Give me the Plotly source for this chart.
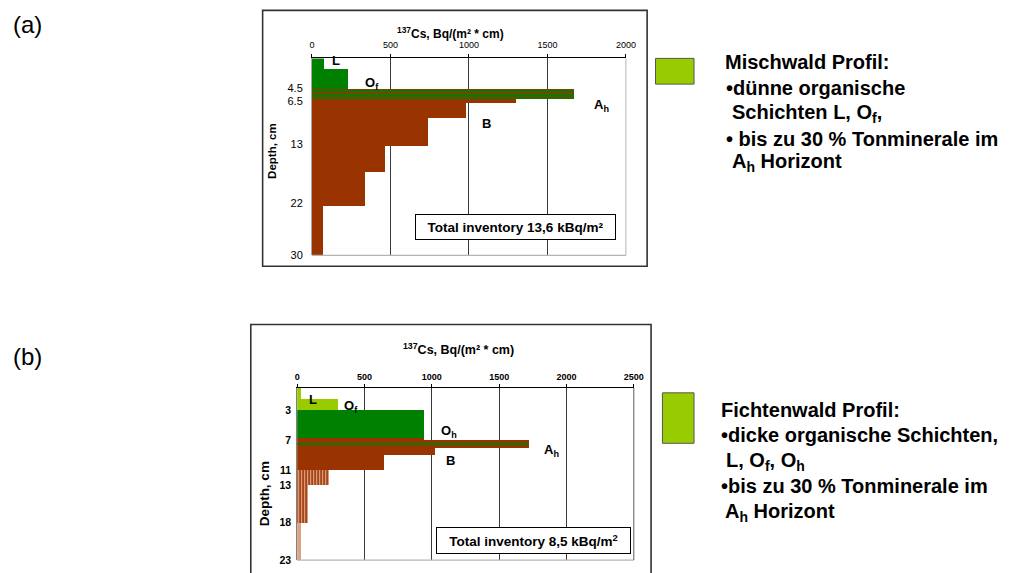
import plotly.graph_objects as go

W, H = 1013, 573
FONT = "Liberation Sans, Arial, sans-serif"
BROWN = "#993300"
GREEN = "#008000"
LIME = "#99cc00"
SALMON = "#d9a387"

# ---------------- data: panel (a) Mischwald ----------------
a_layers = ["L", "Of", "Ah", "Ah/B", "B1", "B2", "B3", "B4", "B5"]
a_top = [0, 1.6, 4.7, 6.2, 6.8, 9.2, 13.4, 17.3, 22.5]
a_bottom = [1.6, 4.7, 6.2, 6.8, 9.2, 13.4, 17.3, 22.5, 30]
a_cs = [78, 229, 1672, 1297, 980, 737, 465, 340, 67]
a_style = ["green", "green", "stripe_h", "brown", "brown", "brown", "brown", "brown", "brown"]
a_cs_ticks = [0, 500, 1000, 1500, 2000]
a_depth_ticks = [4.5, 6.5, 13, 22, 30]
a_depth_ticklabels = ["4.5", "6.5", "13", "22", "30"]
a_total = "Total inventory 13,6 kBq/m²"

# ---------------- data: panel (b) Fichtenwald ----------------
b_layers = ["L", "Of", "Oh", "Oh/Ah", "Ah", "Ah core", "B1", "B2", "B3", "B4", "C"]
b_top = [0, 1.5, 3, 6.75, 7, 7.35, 8, 9, 11, 13, 18]
b_bottom = [1.5, 3, 6.75, 7, 8, 7.65, 9, 11, 13, 18, 23]
b_cs = [28, 302, 945, 945, 1725, 1725, 1022, 643, 240, 81, 32]
b_style = ["lime", "lime", "green", "brown", "brown", "green", "brown", "brown",
           "stripe_v", "stripe_v", "salmon"]
b_cs_ticks = [0, 500, 1000, 1500, 2000, 2500]
b_depth_ticks = [3, 7, 11, 13, 18, 23]
b_depth_ticklabels = ["3", "7", "11", "13", "18", "23"]
b_total = "Total inventory 8,5 kBq/m<sup>2</sup>"

STYLES = {
    "green": dict(color=GREEN),
    "lime": dict(color=LIME),
    "brown": dict(color=BROWN),
    "salmon": dict(color=SALMON),
    "stripe_h": dict(color=BROWN, pattern=dict(shape="-", bgcolor=GREEN, fgcolor=BROWN,
                                               size=3.3, solidity=0.4, fillmode="replace")),
    "stripe_v": dict(color=BROWN, pattern=dict(shape="|", bgcolor="#a8441a", fgcolor="#e2ad8e",
                                               size=3, solidity=0.35, fillmode="replace")),
}


def X(p):
    return p / W


def Y(p):
    return 1 - p / H


fig = go.Figure()


def add_panel(layers, top, bottom, vals, styles, xa, ya):
    for i, s in enumerate(styles):
        fig.add_trace(go.Bar(
            x=[vals[i]], y=[(top[i] + bottom[i]) / 2], width=[bottom[i] - top[i]],
            base=0, orientation="h", name=layers[i], showlegend=False,
            marker=dict(line=dict(width=0), **STYLES[s]),
            xaxis=xa, yaxis=ya, hoverinfo="skip"))


add_panel(a_layers, a_top, a_bottom, a_cs, a_style, "x", "y")
add_panel(b_layers, b_top, b_bottom, b_cs, b_style, "x2", "y2")

common_x = dict(side="top", showline=True, linecolor="black", linewidth=1,
                ticks="outside", ticklen=3, tickcolor="black", showgrid=True,
                gridcolor="#3a3a3a", gridwidth=1, zeroline=False, fixedrange=True)

fig.update_layout(
    width=W, height=H, margin=dict(l=0, r=0, t=0, b=0),
    paper_bgcolor="white", plot_bgcolor="white", barmode="overlay", bargap=0,
    font=dict(family=FONT, color="black"),
    xaxis=dict(domain=[X(313), X(631)], range=[0, 2000], tickvals=a_cs_ticks,
               anchor="y", tickfont=dict(size=9), ticklabelstandoff=3, **common_x),
    yaxis=dict(domain=[Y(258), Y(59)], range=[30, 0], tickvals=a_depth_ticks,
               ticktext=a_depth_ticklabels, anchor="x", showline=True, linecolor="#a8a8a8",
               ticks="outside", ticklen=6, tickcolor="rgba(0,0,0,0)", showgrid=False,
               zeroline=False, tickfont=dict(size=11), fixedrange=True),
    xaxis2=dict(domain=[X(298), X(639)], range=[0, 2500], tickvals=b_cs_ticks,
                anchor="y2", tickfont=dict(size=9, weight="bold"), **common_x),
    yaxis2=dict(domain=[Y(566), Y(392)], range=[23, 0], tickvals=b_depth_ticks,
                ticktext=b_depth_ticklabels, anchor="x2", showline=True, linecolor="#808080",
                ticks="outside", ticklen=3, tickcolor="rgba(0,0,0,0)", showgrid=False,
                zeroline=False, tickfont=dict(size=10.5, weight="bold"), fixedrange=True),
)

shapes = []
# outer boxes
shapes.append(dict(type="rect", xref="paper", yref="paper", x0=X(263), x1=X(652.5),
                   y0=Y(269), y1=Y(10.5), line=dict(color="#333333", width=1.6)))
shapes.append(dict(type="rect", xref="paper", yref="paper", x0=X(251), x1=X(656.5),
                   y0=Y(590), y1=Y(328), line=dict(color="#333333", width=1.6)))
# plot frame lines (bottom and right)
for xr, yr, col in [("x domain", "y domain", "#b4b4b4"), ("x2 domain", "y2 domain", "#5a5a5a")]:
    shapes.append(dict(type="line", xref=xr, yref=yr, x0=0, x1=1, y0=0, y1=0,
                       line=dict(color="#b4b4b4", width=1.2), layer="above"))
    shapes.append(dict(type="line", xref=xr, yref=yr, x0=1, x1=1, y0=0, y1=1,
                       line=dict(color=col, width=1), layer="above"))
# legend squares
shapes.append(dict(type="rect", xref="paper", yref="paper", x0=X(661), x1=X(700),
                   y0=Y(85), y1=Y(59), fillcolor=LIME, line=dict(color="#555555", width=1)))
shapes.append(dict(type="rect", xref="paper", yref="paper", x0=X(668), x1=X(700),
                   y0=Y(448), y1=Y(397), fillcolor=LIME, line=dict(color="#555555", width=1)))
fig.update_layout(shapes=shapes)

ann = []


def text(x, y, t, size, bold=True, xanchor="center", angle=0, **kw):
    ann.append(dict(x=X(x), y=Y(y), xref="paper", yref="paper", text=t, showarrow=False,
                    xanchor=xanchor, yanchor="middle", textangle=angle,
                    font=dict(size=size, family=FONT, color="black",
                              weight="bold" if bold else "normal"), **kw))


text(25, 25, "(a)", 24, bold=False)
text(25, 360, "(b)", 24, bold=False)
text(453.5, 33.5, "<sup>137</sup>Cs, Bq/(m² * cm)", 12)
text(461.5, 353, "<sup>137</sup>Cs, Bq/(m² * cm)", 12.5)
text(273, 152, "Depth, cm", 11.5, angle=-90)
text(265, 499, "Depth, cm", 13.5, angle=-90)

# horizon labels (a)
text(331, 61.5, "L", 13, xanchor="left")
text(365, 84.5, "O<sub>f</sub>", 13, xanchor="left")
text(597, 107, "A<sub>h</sub>", 13, xanchor="left")
text(483, 125, "B", 13, xanchor="left")
# horizon labels (b)
text(308, 403.5, "L", 13, xanchor="left")
text(343, 411, "O<sub>f</sub>", 13, xanchor="left")
text(442, 436, "O<sub>h</sub>", 13, xanchor="left")
text(546, 455, "A<sub>h</sub>", 13, xanchor="left")
text(447, 465, "B", 13, xanchor="left")

# total inventory boxes
for cx, cy, t, w, h in [(519.5, 229, a_total, 199, 24), (537.5, 546, b_total, 193, 25)]:
    ann.append(dict(x=X(cx), y=Y(cy), xref="paper", yref="paper", text=t,
                    showarrow=False, xanchor="center", yanchor="middle", width=w, height=h,
                    bordercolor="black", borderwidth=1, borderpad=0, bgcolor="white",
                    font=dict(size=13.5, family=FONT, color="black", weight="bold")))

# legend text
LS = 20
a_lines = [(729, 63, "Mischwald Profil:"), (730, 89, "•dünne organische"),
           (736, 114.5, "Schichten L, O<sub>f</sub>,"), (730, 140, "• bis zu 30 % Tonminerale im"),
           (736, 164, "A<sub>h</sub> Horizont")]
b_lines = [(725, 414, "Fichtenwald Profil:"), (725, 440, "•dicke organische Schichten,"),
           (730, 466, "L, O<sub>f</sub>, O<sub>h</sub>"), (725, 491, "•bis zu 30 % Tonminerale im"),
           (729, 518, "A<sub>h</sub> Horizont")]
for x, y, t in a_lines + b_lines:
    text(x, y, t, LS, xanchor="left")

fig.update_layout(annotations=ann)
fig.write_html("out.html", post_script="document.body.style.margin='0';",
               config={"displayModeBar": False})
